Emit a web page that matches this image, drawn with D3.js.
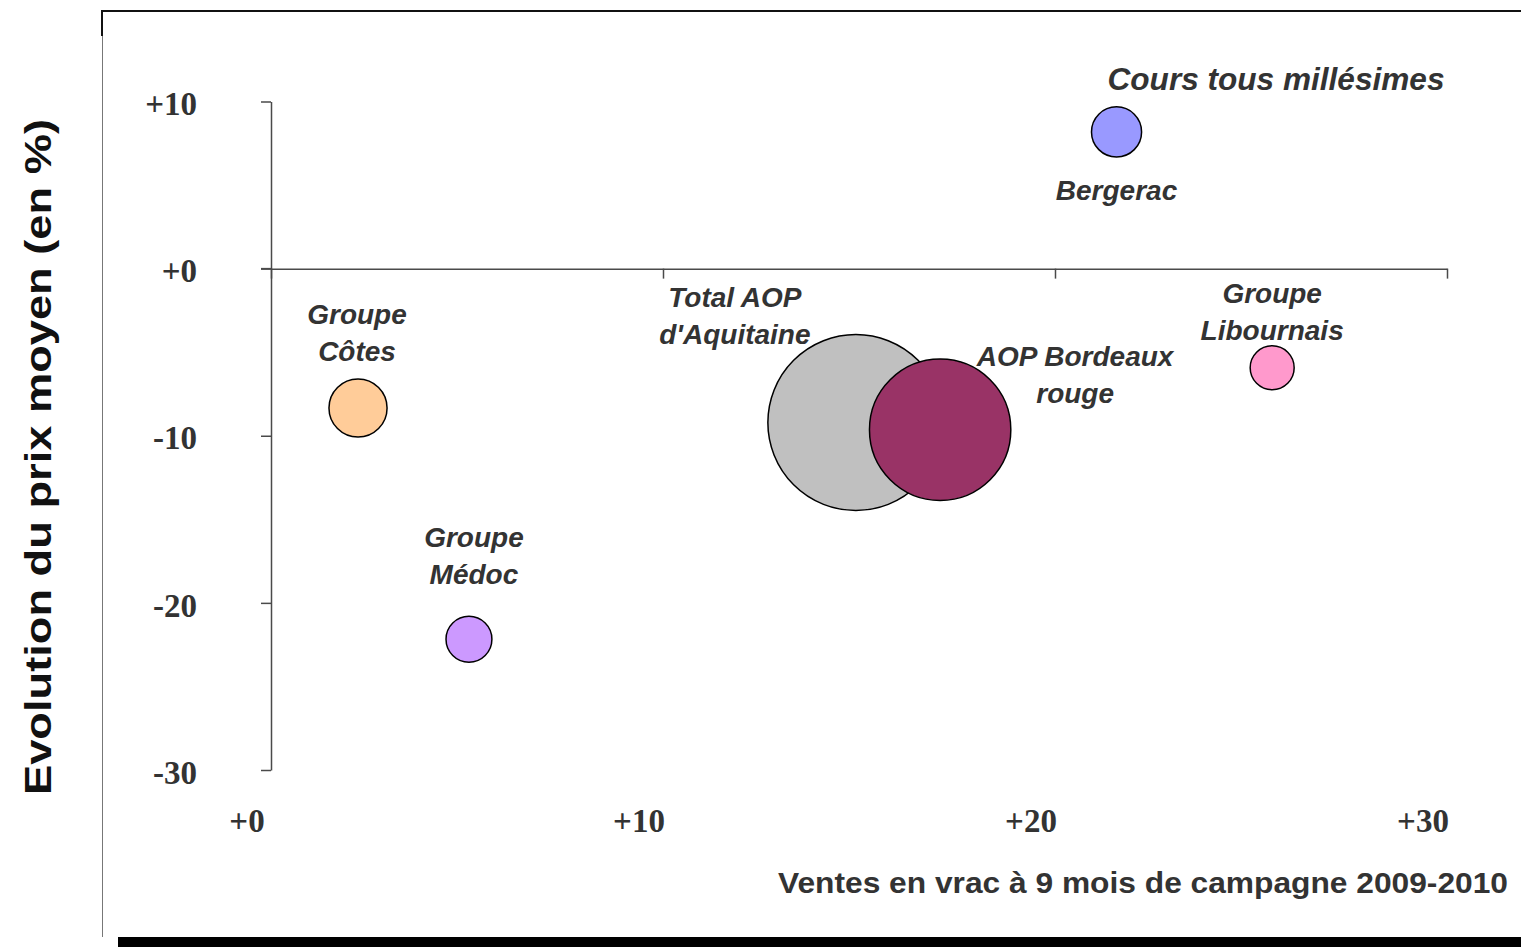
<!DOCTYPE html>
<html>
<head>
<meta charset="utf-8">
<script src="https://cdn.jsdelivr.net/npm/d3@7"></script>
<style>
  html, body { margin: 0; padding: 0; background: #fff; }
  svg { display: block; }
</style>
</head>
<body>
<svg id="chart" width="1521" height="947"></svg>
<script>
// ---- Data ----
const categories = ["Total AOP d'Aquitaine", "AOP Bordeaux rouge", "Groupe Côtes", "Groupe Médoc", "Bergerac", "Groupe Libournais"];
const salesGrowth = [14.92, 17.07, 2.22, 5.05, 21.57, 25.54];      // x: ventes en vrac (%)
const priceChange = [-9.21, -9.64, -8.34, -22.18, 8.18, -5.93];    // y: évolution du prix moyen (%)
const volumes = [100, 64.5, 10.9, 6.8, 8.1, 6.25];                 // bubble size
const labelLines = [["Total AOP", "d'Aquitaine"], ["AOP Bordeaux", "rouge"], ["Groupe", "Côtes"], ["Groupe", "Médoc"], ["Bergerac"], ["Groupe", "Libournais"]];
const xTickValues = [0, 10, 20, 30];
const yTickValues = [10, 0, -10, -20, -30];
const xTitle = "Ventes en vrac à 9 mois de campagne 2009-2010";
const yTitle = "Evolution du prix moyen (en %)";
const noteText = "Cours tous millésimes";

// ---- Styles / layout ----
const bubbleColors = ["#c0c0c0", "#993366", "#ffcc99", "#cc99ff", "#9999ff", "#ff99cc"];
const labelOffsets = [[-121, -116], [135, -64], [-1, -84], [5, -92], [0, 68], [0, -65]];
const lineGap = 37;
const fmt = d => (d >= 0 ? "+" : "-") + Math.abs(d);

const svg = d3.select("#chart");

const x = d3.scaleLinear().domain([0, 30]).range([271, 1447]);
const y = d3.scaleLinear().domain([-30, 10]).range([770, 101.5]);
const r = d3.scaleSqrt().domain([0, 100]).range([0, 88]);

// ---- Frame ----
svg.append("line").attr("x1", 101).attr("x2", 1521).attr("y1", 11).attr("y2", 11)
  .attr("stroke", "#111").attr("stroke-width", 2);
svg.append("line").attr("x1", 102).attr("x2", 102).attr("y1", 10).attr("y2", 36)
  .attr("stroke", "#111").attr("stroke-width", 2);
svg.append("line").attr("x1", 102.5).attr("x2", 102.5).attr("y1", 36).attr("y2", 937)
  .attr("stroke", "#777").attr("stroke-width", 1);
svg.append("rect").attr("x", 118).attr("y", 937).attr("width", 1403).attr("height", 10).attr("fill", "#000");

// ---- Axes ----
const axisColor = "#4a4a4a";
const yAxis = d3.axisLeft(y).tickValues(yTickValues).tickSize(10).tickSizeOuter(0)
  .tickPadding(64).tickFormat(fmt);
const gy = svg.append("g").attr("transform", `translate(${x(0)},0)`).call(yAxis);
gy.select(".domain").attr("stroke", axisColor).attr("stroke-width", 1.5);
gy.selectAll(".tick line").attr("stroke", axisColor).attr("stroke-width", 1.5);
gy.selectAll(".tick text")
  .attr("font-family", "'Liberation Serif', 'Times New Roman', serif")
  .attr("font-weight", "bold").attr("font-size", 33).attr("fill", "#333")
  .attr("dy", "0.40em");

const xAxis = d3.axisBottom(x).tickValues(xTickValues).tickSize(10).tickSizeOuter(0).tickFormat("");
const gx = svg.append("g").attr("transform", `translate(0,${y(0)})`).call(xAxis);
gx.select(".domain").attr("stroke", axisColor).attr("stroke-width", 1.5);
gx.selectAll(".tick line").attr("stroke", axisColor).attr("stroke-width", 1.5);
gx.append("line").attr("x1", x(0) - 10).attr("x2", x(0)).attr("y1", 0).attr("y2", 0)
  .attr("stroke", axisColor).attr("stroke-width", 1.5);

// x tick labels (placed low, as in the reference)
svg.append("g").selectAll("text").data(xTickValues).join("text")
  .attr("x", d => x(d) - 24).attr("y", 832)
  .attr("text-anchor", "middle")
  .attr("font-family", "'Liberation Serif', 'Times New Roman', serif")
  .attr("font-weight", "bold").attr("font-size", 33).attr("fill", "#333")
  .text(fmt);

// ---- Bubbles ----
const idx = d3.range(categories.length);
svg.append("g").selectAll("circle").data(idx).join("circle")
  .attr("cx", i => x(salesGrowth[i]))
  .attr("cy", i => y(priceChange[i]))
  .attr("r", i => r(volumes[i]))
  .attr("fill", i => bubbleColors[i])
  .attr("stroke", "#000").attr("stroke-width", 1.5);

// ---- Labels ----
const labelFont = "'Liberation Sans', Arial, sans-serif";
const lg = svg.append("g");
idx.forEach(i => {
  const t = lg.append("text")
    .attr("x", x(salesGrowth[i]) + labelOffsets[i][0])
    .attr("y", y(priceChange[i]) + labelOffsets[i][1])
    .attr("text-anchor", "middle")
    .attr("font-family", labelFont).attr("font-weight", "bold").attr("font-style", "italic")
    .attr("font-size", 28).attr("fill", "#333");
  labelLines[i].forEach((line, k) => {
    t.append("tspan").attr("x", x(salesGrowth[i]) + labelOffsets[i][0])
      .attr("dy", k === 0 ? 0 : lineGap).text(line);
  });
});

svg.append("text").attr("x", 1276).attr("y", 90).attr("text-anchor", "middle")
  .attr("font-family", labelFont).attr("font-weight", "bold").attr("font-style", "italic")
  .attr("font-size", 31).attr("fill", "#333")
  .attr("textLength", 337).attr("lengthAdjust", "spacingAndGlyphs")
  .text(noteText);

// ---- Axis titles ----
svg.append("text").attr("x", 1508).attr("y", 893).attr("text-anchor", "end")
  .attr("font-family", labelFont).attr("font-weight", "bold")
  .attr("font-size", 30).attr("fill", "#333")
  .attr("textLength", 730).attr("lengthAdjust", "spacingAndGlyphs")
  .text(xTitle);

svg.append("text")
  .attr("transform", "translate(51,457) rotate(-90)")
  .attr("text-anchor", "middle")
  .attr("font-family", labelFont).attr("font-weight", "bold")
  .attr("font-size", 37).attr("fill", "#111")
  .attr("textLength", 676).attr("lengthAdjust", "spacingAndGlyphs")
  .text(yTitle);
</script>
</body>
</html>
